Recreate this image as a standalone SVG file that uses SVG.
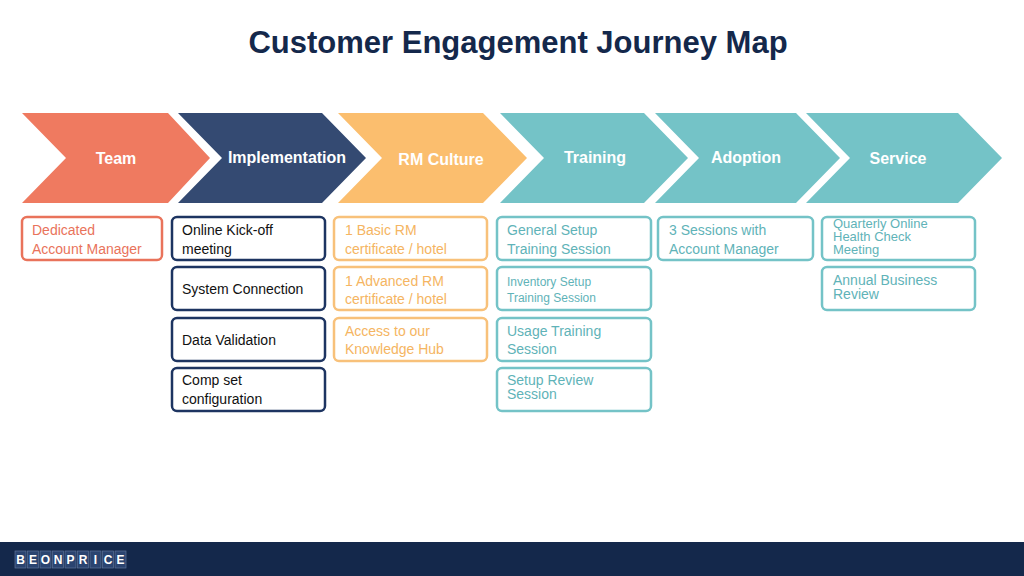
<svg xmlns="http://www.w3.org/2000/svg" width="1024" height="576" viewBox="0 0 1024 576">
<style>
text{font-family:"Liberation Sans",Arial,sans-serif}
.h{font-size:16px;font-weight:bold;fill:#fff;text-anchor:middle}
.b{fill:#fff;stroke-width:2.5}
.t{font-size:14px}
.s{font-size:13px}
.o{stroke:#e9735b}.ot{fill:#e9735b}
.n{stroke:#1d3461}.nt{fill:#111}
.y{stroke:#f8c17a}.yt{fill:#f5b562}
.c{stroke:#74c3c7}.ct{fill:#5fb3b8}
.lg{fill:#2b4470;stroke:#5d7398;stroke-width:.7}
.lt{font-size:12px;font-weight:bold;fill:#fff;text-anchor:middle}
</style>
<rect width="1024" height="576" fill="#fff"/>
<text x="518" y="53" font-size="31" font-weight="bold" fill="#14284b" text-anchor="middle">Customer Engagement Journey Map</text>
<g id="team"><polygon points="22,113 168,113 210,158 168,203 22,203 66,158" fill="#ef7a60"/><text class="h" x="116" y="164">Team</text></g>
<g id="implementation"><polygon points="178,113 322,113 366,158 322,203 178,203 222,158" fill="#344a72"/><text class="h" x="287" y="163">Implementation</text></g>
<g id="rmculture"><polygon points="338,113 483,113 527,158 483,203 338,203 382,158" fill="#fbbe6e"/><text class="h" x="441" y="165">RM Culture</text></g>
<g id="training"><polygon points="500,113 644,113 688,158 644,203 500,203 544,158" fill="#74c3c7"/><text class="h" x="595" y="163">Training</text></g>
<g id="adoption"><polygon points="655,113 796,113 840,158 796,203 655,203 699,158" fill="#74c3c7"/><text class="h" x="746" y="163">Adoption</text></g>
<g id="service"><polygon points="806,113 958,113 1002,158 958,203 806,203 850,158" fill="#74c3c7"/><text class="h" x="898" y="164">Service</text></g>

<g id="b-team"><rect class="b o" x="22" y="217" width="140" height="43" rx="5"/><text class="t ot" x="32" y="235">Dedicated</text><text class="t ot" x="32" y="254">Account Manager</text></g>

<g id="b-impl1"><rect class="b n" x="172" y="217" width="153" height="43" rx="5"/><text class="t nt" x="182" y="235">Online Kick-off</text><text class="t nt" x="182" y="254">meeting</text></g>
<g id="b-impl2"><rect class="b n" x="172" y="267" width="153" height="43" rx="5"/><text class="t nt" x="182" y="294">System Connection</text></g>
<g id="b-impl3"><rect class="b n" x="172" y="318" width="153" height="43" rx="5"/><text class="t nt" x="182" y="345">Data Validation</text></g>
<g id="b-impl4"><rect class="b n" x="172" y="368" width="153" height="43" rx="5"/><text class="t nt" x="182" y="385">Comp set</text><text class="t nt" x="182" y="404">configuration</text></g>

<g id="b-rm1"><rect class="b y" x="334" y="217" width="153" height="43" rx="5"/><text class="t yt" x="345" y="235">1 Basic RM</text><text class="t yt" x="345" y="254">certificate / hotel</text></g>
<g id="b-rm2"><rect class="b y" x="334" y="267" width="153" height="43" rx="5"/><text class="t yt" x="345" y="286">1 Advanced RM</text><text class="t yt" x="345" y="304">certificate / hotel</text></g>
<g id="b-rm3"><rect class="b y" x="334" y="318" width="153" height="43" rx="5"/><text class="t yt" x="345" y="336">Access to our</text><text class="t yt" x="345" y="354">Knowledge Hub</text></g>

<g id="b-tr1"><rect class="b c" x="497" y="217" width="154" height="43" rx="5"/><text class="t ct" x="507" y="235">General Setup</text><text class="t ct" x="507" y="254">Training Session</text></g>
<g id="b-tr2"><rect class="b c" x="497" y="267" width="154" height="43" rx="5"/><text class="ct" font-size="12" x="507" y="286">Inventory  Setup</text><text class="ct" font-size="12" x="507" y="302">Training  Session</text></g>
<g id="b-tr3"><rect class="b c" x="497" y="318" width="154" height="43" rx="5"/><text class="t ct" x="507" y="336">Usage Training</text><text class="t ct" x="507" y="354">Session</text></g>
<g id="b-tr4"><rect class="b c" x="497" y="368" width="154" height="43" rx="5"/><text class="t ct" x="507" y="385">Setup Review</text><text class="t ct" x="507" y="399">Session</text></g>

<g id="b-ad1"><rect class="b c" x="658" y="217" width="155" height="43" rx="5"/><text class="t ct" x="669" y="235">3 Sessions with</text><text class="t ct" x="669" y="254">Account Manager</text></g>

<g id="b-sv1"><rect class="b c" x="822" y="217" width="153" height="43" rx="5"/><text class="s ct" x="833" y="228">Quarterly Online</text><text class="s ct" x="833" y="241">Health Check</text><text class="s ct" x="833" y="254">Meeting</text></g>
<g id="b-sv2"><rect class="b c" x="822" y="267" width="153" height="43" rx="5"/><text class="t ct" x="833" y="285">Annual Business</text><text class="t ct" x="833" y="299">Review</text></g>

<g id="footer"><rect x="0" y="542" width="1024" height="34" fill="#14284b"/>
<g>
<rect class="lg" x="15" y="551" width="11" height="17"/><rect class="lg" x="27.5" y="551" width="11" height="17"/><rect class="lg" x="40" y="551" width="11" height="17"/><rect class="lg" x="52.5" y="551" width="11" height="17"/><rect class="lg" x="65" y="551" width="11" height="17"/><rect class="lg" x="77.5" y="551" width="11" height="17"/><rect class="lg" x="90" y="551" width="11" height="17"/><rect class="lg" x="102.5" y="551" width="11" height="17"/><rect class="lg" x="115" y="551" width="11" height="17"/>
<text class="lt" x="20.5" y="564">B</text><text class="lt" x="33" y="564">E</text><text class="lt" x="45.5" y="564">O</text><text class="lt" x="58" y="564">N</text><text class="lt" x="70.5" y="564">P</text><text class="lt" x="83" y="564">R</text><text class="lt" x="95.5" y="564">I</text><text class="lt" x="108" y="564">C</text><text class="lt" x="120.5" y="564">E</text>
</g></g>
</svg>
